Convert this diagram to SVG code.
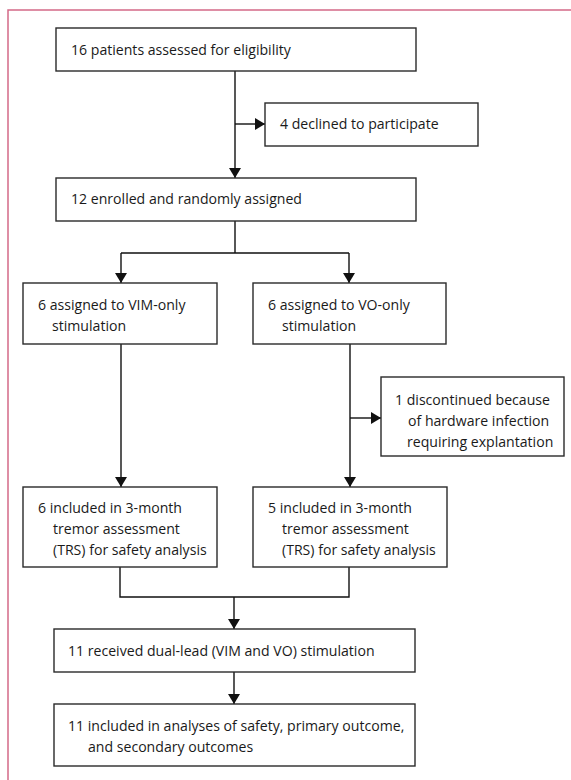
<svg xmlns="http://www.w3.org/2000/svg" width="571" height="780" viewBox="0 0 571 780">
<style>
.box{fill:#fff;stroke:#2a2a2a;stroke-width:1.4}
.t{font-family:"Open Sans","Liberation Sans",Arial,sans-serif;font-size:14.1px;fill:#1a1a1a}
.c{fill:none;stroke:#111;stroke-width:1.4}
.frame{fill:none;stroke:#d46a88;stroke-width:1.5}
</style>
<defs>
<marker id="ah" markerUnits="userSpaceOnUse" markerWidth="10" markerHeight="12" refX="10" refY="6" orient="auto">
<path d="M0,0 L10,6 L0,12 z" fill="#111"/>
</marker>
</defs>
<rect width="571" height="780" fill="#fff"/>
<path class="frame" d="M8,780 L8,10 L571,10"/>
<g id="connectors">
<path class="c" d="M235,71 L235,178" marker-end="url(#ah)"/>
<path class="c" d="M235,124 L265,124" marker-end="url(#ah)"/>
<path class="c" d="M235,221 L235,253 M121,253 L349,253"/>
<path class="c" d="M121,253 L121,283" marker-end="url(#ah)"/>
<path class="c" d="M349,253 L349,283" marker-end="url(#ah)"/>
<path class="c" d="M121,344 L121,487" marker-end="url(#ah)"/>
<path class="c" d="M350,344 L350,487" marker-end="url(#ah)"/>
<path class="c" d="M350,418 L381,418" marker-end="url(#ah)"/>
<path class="c" d="M120,567 L120,597 L349,597 L349,567"/>
<path class="c" d="M234,597 L234,629" marker-end="url(#ah)"/>
<path class="c" d="M234,672 L234,704" marker-end="url(#ah)"/>
</g>
<g id="n1"><rect class="box" x="56" y="28" width="360" height="43"/><text class="t" x="71" y="55">16 patients assessed for eligibility</text></g>
<g id="n2"><rect class="box" x="265" y="103" width="213" height="43"/><text class="t" x="280" y="129">4 declined to participate</text></g>
<g id="n3"><rect class="box" x="56" y="178" width="360" height="43"/><text class="t" x="71" y="204">12 enrolled and randomly assigned</text></g>
<g id="n4"><rect class="box" x="23" y="283" width="194" height="61"/><text class="t" x="38" y="310">6 assigned to VIM-only</text><text class="t" x="52" y="331">stimulation</text></g>
<g id="n5"><rect class="box" x="253" y="283" width="193" height="61"/><text class="t" x="268" y="310">6 assigned to VO-only</text><text class="t" x="282" y="331">stimulation</text></g>
<g id="n6"><rect class="box" x="381" y="377" width="183" height="79"/><text class="t" x="395" y="405">1 discontinued because</text><text class="t" x="408" y="426">of hardware infection</text><text class="t" x="407" y="447">requiring explantation</text></g>
<g id="n7"><rect class="box" x="23" y="487" width="194" height="80"/><text class="t" x="38" y="513">6 included in 3-month</text><text class="t" x="53" y="534">tremor assessment</text><text class="t" x="53" y="555">(TRS) for safety analysis</text></g>
<g id="n8"><rect class="box" x="253" y="487" width="194" height="80"/><text class="t" x="268" y="513">5 included in 3-month</text><text class="t" x="282" y="534">tremor assessment</text><text class="t" x="282" y="555">(TRS) for safety analysis</text></g>
<g id="n9"><rect class="box" x="54" y="629" width="361" height="43"/><text class="t" x="68" y="656">11 received dual-lead (VIM and VO) stimulation</text></g>
<g id="n10"><rect class="box" x="54" y="704" width="361" height="62"/><text class="t" x="68" y="731">11 included in analyses of safety, primary outcome,</text><text class="t" x="88" y="752">and secondary outcomes</text></g>
</svg>
